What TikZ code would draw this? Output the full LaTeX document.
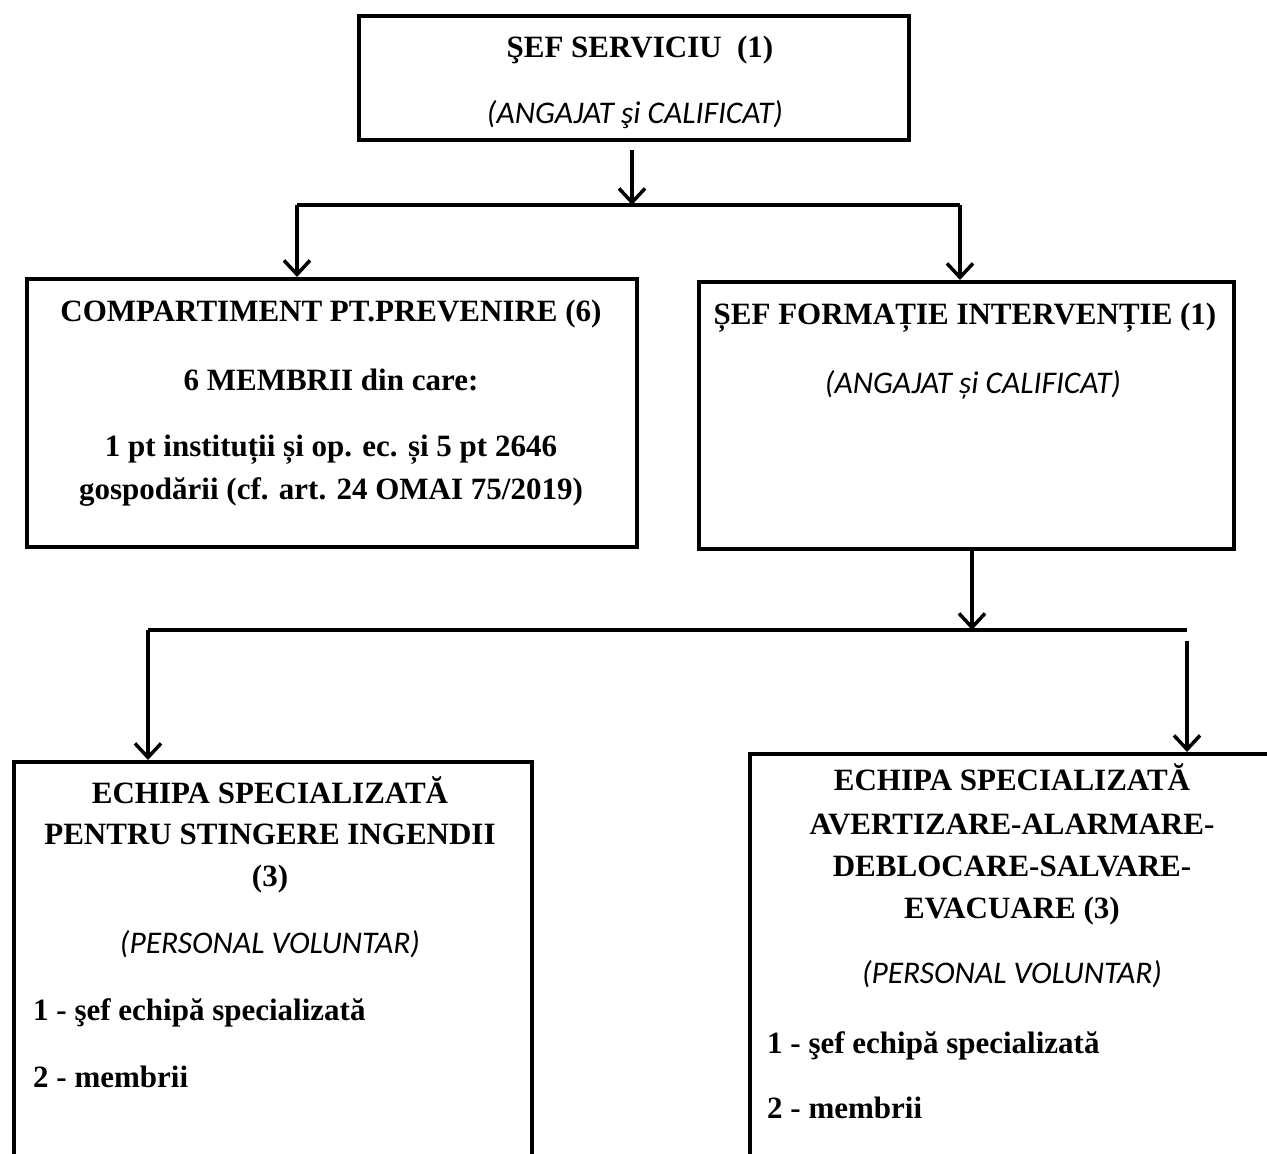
\documentclass[tikz,border=0pt]{standalone}
\usepackage{fontspec}
\setmainfont{Liberation Serif}
\newfontfamily\calfont{Carlito}
\usetikzlibrary{arrows.meta}
\begin{document}
\begin{tikzpicture}[x=1pt,y=-1pt,
  box/.style={draw=black,line width=4pt,anchor=north west,inner sep=0pt,fill=none},
  conn/.style={line width=3.5pt},
  arr/.style={line width=3.5pt,-{Straight Barb[length=14pt,width=26pt,line width=3.5pt]}},
  ttl/.style={font=\fontsize{31}{36}\bfseries\selectfont,anchor=base,inner sep=0pt},
  itl/.style={font=\fontsize{31.5}{36}\calfont\itshape\selectfont,anchor=base,inner sep=0pt},
  itm/.style={font=\fontsize{31}{36}\bfseries\selectfont,anchor=base west,inner sep=0pt}]
\useasboundingbox (0,0) rectangle (1267,1154);
\clip (0,0) rectangle (1267,1154);
\fill[white] (0,0) rectangle (1267,1154);
% boxes
\node[box,minimum width=550pt,minimum height=124pt] (b1) at (357,14) {};
\node[box,minimum width=610pt,minimum height=268pt] (b2) at (25,277) {};
\node[box,minimum width=535pt,minimum height=267pt] (b3) at (697,280) {};
\node[box,minimum width=518pt,minimum height=420pt] (b4) at (12,760) {};
\node[box,minimum width=540pt,minimum height=430pt] (b5) at (748,752) {};
% texts
\node[ttl] (t1a) at (640,57) {ŞEF SERVICIU\ \ (1)};
\node[itl] (t1b) at (635,123) {(ANGAJAT şi CALIFICAT)};
\node[ttl] (t2a) at (331,321) {COMPARTIMENT PT.PREVENIRE (6)};
\node[ttl] (t2b) at (331,390) {6 MEMBRII din care:};
\node[ttl] (t2c) at (331,456) {1 pt instituții și op. ec. și 5 pt 2646};
\node[ttl] (t2d) at (331,499) {gospodării (cf. art. 24 OMAI 75/2019)};
\node[ttl] (t3a) at (965,324) {ȘEF FORMAȚIE INTERVENȚIE (1)};
\node[itl] (t3b) at (973,393) {(ANGAJAT și CALIFICAT)};
\node[ttl] (t4a) at (270,803) {ECHIPA SPECIALIZATĂ};
\node[ttl] (t4b) at (270,844) {PENTRU STINGERE INGENDII};
\node[ttl] (t4c) at (270,886) {(3)};
\node[itl] (t4d) at (270,953) {(PERSONAL VOLUNTAR)};
\node[itm] (t4e) at (33,1020) {1 - şef echipă specializată};
\node[itm] (t4f) at (33,1087) {2 - membrii};
\node[ttl] (t5a) at (1012,790) {ECHIPA SPECIALIZATĂ};
\node[ttl] (t5b) at (1012,834) {AVERTIZARE-ALARMARE-};
\node[ttl] (t5c) at (1012,876) {DEBLOCARE-SALVARE-};
\node[ttl] (t5d) at (1012,918) {EVACUARE (3)};
\node[itl] (t5e) at (1012,983) {(PERSONAL VOLUNTAR)};
\node[itm] (t5f) at (767,1053) {1 - şef echipă specializată};
\node[itm] (t5g) at (767,1118) {2 - membrii};
% connectors
\coordinate (j1) at (632,205);
\coordinate (j1l) at (297,205);
\coordinate (j1r) at (960,205);
\draw[arr] (632,150) -- (j1);
\draw[conn] (j1l) -- (j1r);
\draw[arr] (j1l) -- (j1l |- b2.north);
\draw[arr] (j1r) -- (j1r |- b3.north);
\coordinate (j2) at (972,630);
\coordinate (j2l) at (148,630);
\coordinate (j2r) at (1187,630);
\coordinate (j2rs) at (1187,641);
\draw[arr] (j2 |- b3.south) -- (j2);
\draw[conn] (j2l) -- (j2r);
\draw[arr] (j2l) -- (j2l |- b4.north);
\draw[arr] (j2rs) -- (j2rs |- b5.north);
\end{tikzpicture}
\end{document}
